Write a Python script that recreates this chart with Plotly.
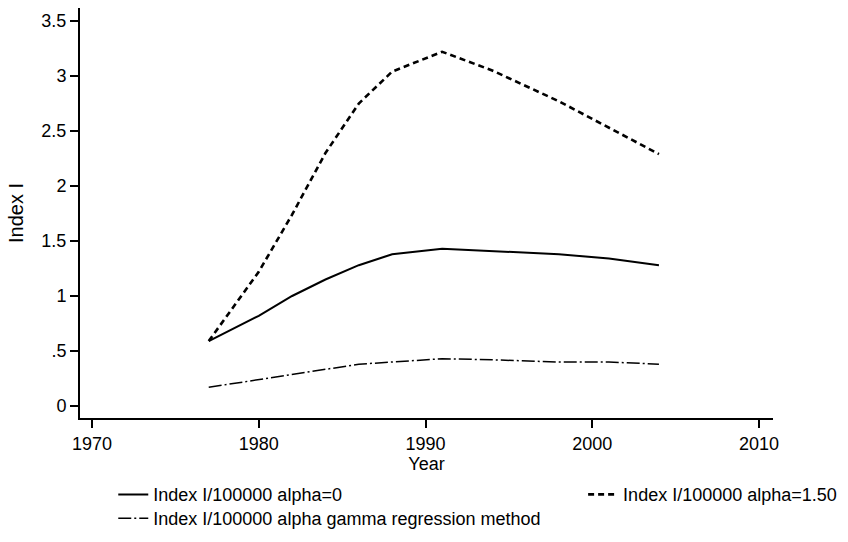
import plotly.graph_objects as go

# Survey years and index series
years = [1977, 1980, 1982, 1984, 1986, 1988, 1991, 1994, 1998, 2001, 2004]
alpha0 = [0.59, 0.82, 1.00, 1.15, 1.28, 1.38, 1.43, 1.41, 1.38, 1.34, 1.28]
alpha150 = [0.59, 1.22, 1.74, 2.30, 2.75, 3.04, 3.22, 3.05, 2.77, 2.53, 2.29]
alpha_gamma = [0.17, 0.24, 0.29, 0.34, 0.38, 0.40, 0.43, 0.42, 0.40, 0.40, 0.38]

x_ticks = [1970, 1980, 1990, 2000, 2010]
y_ticks = [0, 0.5, 1, 1.5, 2, 2.5, 3, 3.5]
y_tick_text = ["0", ".5", "1", "1.5", "2", "2.5", "3", "3.5"]

FONT = "Liberation Sans, Arial, sans-serif"
LEG_FONT = dict(family=FONT, size=18, color="black")

fig = go.Figure()
fig.add_trace(go.Scatter(
    x=years, y=alpha0, mode="lines", name="Index I/100000 alpha=0",
    line=dict(color="black", width=2), legend="legend"))
fig.add_trace(go.Scatter(
    x=years, y=alpha150, mode="lines", name="Index I/100000 alpha=1.50",
    line=dict(color="black", width=2.6, dash="6px,4px"), legend="legend2"))
fig.add_trace(go.Scatter(
    x=years, y=alpha_gamma, mode="lines",
    name="Index I/100000 alpha gamma regression method",
    line=dict(color="black", width=1.5, dash="13px,3px,2px,3px"), legend="legend3"))

axis_common = dict(
    showgrid=False, zeroline=False, showline=True, linecolor="black",
    linewidth=2, ticks="outside", ticklen=8, tickwidth=1.5, tickcolor="black",
    tickfont=dict(family=FONT, size=18, color="black"),
)

# one legend per entry so each row can be placed independently
legend_common = dict(orientation="v", xanchor="left", yanchor="top",
                     font=LEG_FONT, bgcolor="rgba(0,0,0,0)", itemwidth=30)

fig.update_layout(
    width=848, height=542,
    margin=dict(l=80, r=75, t=8, b=124, autoexpand=False),
    paper_bgcolor="white", plot_bgcolor="white",
    font=dict(family=FONT, size=18, color="black"),
    xaxis=dict(range=[1969.28, 2010.84], tickvals=x_ticks,
               title=dict(text="Year", standoff=2,
                          font=dict(family=FONT, size=18, color="black")),
               **axis_common),
    yaxis=dict(range=[-0.109, 3.618], tickvals=y_ticks, ticktext=y_tick_text,
               title=dict(text="Index I", standoff=12,
                          font=dict(family=FONT, size=20, color="black")),
               **axis_common),
    legend=dict(x=0.048, y=-0.142, **legend_common),
    legend2=dict(x=0.726, y=-0.142, **legend_common),
    legend3=dict(x=0.048, y=-0.200, **legend_common),
    showlegend=True,
)

fig.write_html("out.html")
